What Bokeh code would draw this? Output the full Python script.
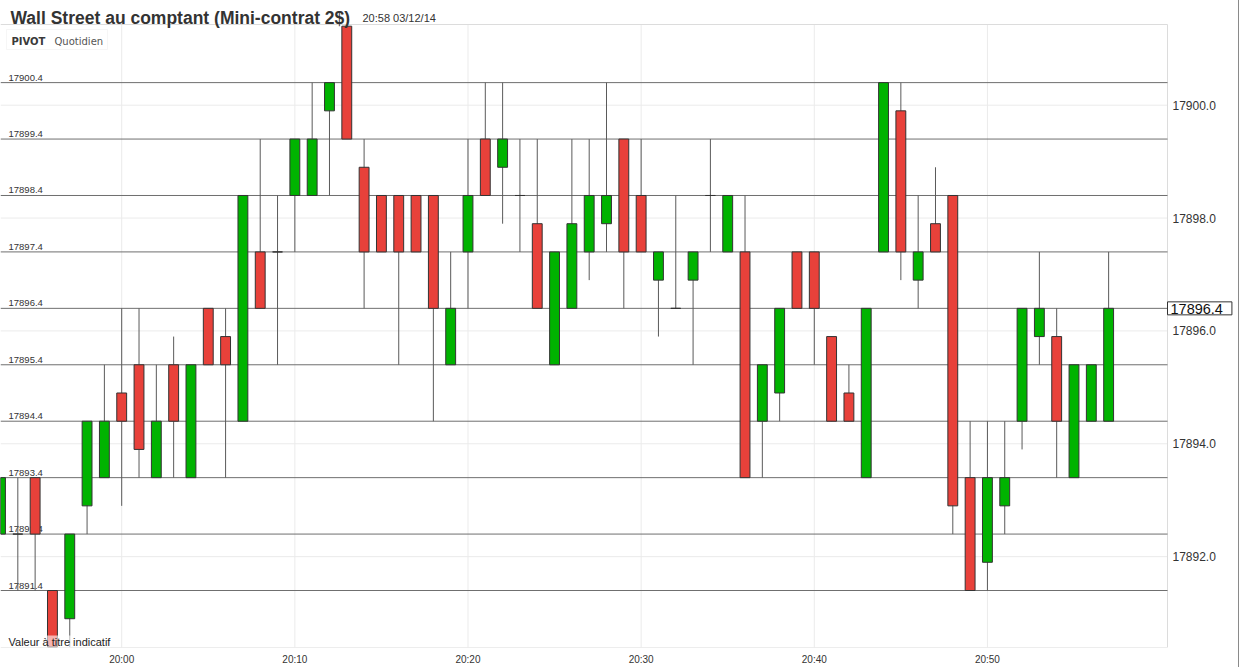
from bokeh.plotting import figure
from bokeh.models import Range1d, FixedTicker, Label, BoxAnnotation, ColumnDataSource
from bokeh.core.properties import value
from bokeh.embed import file_html
from bokeh.resources import INLINE

# ---------------- data ----------------
times = ["19:53", "19:54", "19:55", "19:56", "19:57", "19:58", "19:59",
         "20:00", "20:01", "20:02", "20:03", "20:04", "20:05", "20:06", "20:07", "20:08", "20:09",
         "20:10", "20:11", "20:12", "20:13", "20:14", "20:15", "20:16", "20:17", "20:18", "20:19",
         "20:20", "20:21", "20:22", "20:23", "20:24", "20:25", "20:26", "20:27", "20:28", "20:29",
         "20:30", "20:31", "20:32", "20:33", "20:34", "20:35", "20:36", "20:37", "20:38", "20:39",
         "20:40", "20:41", "20:42", "20:43", "20:44", "20:45", "20:46", "20:47", "20:48", "20:49",
         "20:50", "20:51", "20:52", "20:53", "20:54", "20:55", "20:56", "20:57"]

opens = [17892.4, 17892.4, 17893.4, 17891.4, 17890.9, 17892.9, 17893.4,
         17894.9, 17895.4, 17893.4, 17895.4, 17893.4, 17896.4, 17895.9, 17894.4, 17897.4, 17897.4,
         17898.4, 17898.4, 17899.9, 17901.4, 17898.9, 17898.4, 17898.4, 17898.4, 17898.4, 17895.4,
         17897.4, 17899.4, 17898.9, 17898.4, 17897.9, 17895.4, 17896.4, 17897.4, 17897.9, 17899.4,
         17898.4, 17896.9, 17896.4, 17896.9, 17898.4, 17897.4, 17897.4, 17894.4, 17894.9, 17897.4,
         17897.4, 17895.9, 17894.9, 17893.4, 17897.4, 17899.9, 17896.9, 17897.9, 17898.4, 17893.4,
         17891.9, 17892.9, 17894.4, 17895.9, 17895.9, 17893.4, 17894.4, 17894.4]

highs = [17893.4, 17893.4, 17893.4, 17891.4, 17892.4, 17894.4, 17895.4,
         17896.4, 17896.4, 17895.4, 17895.9, 17895.4, 17896.4, 17896.4, 17898.4, 17899.4, 17898.4,
         17899.4, 17900.4, 17900.4, 17901.4, 17899.4, 17898.4, 17898.4, 17898.4, 17898.4, 17897.4,
         17899.4, 17900.4, 17900.4, 17899.4, 17899.4, 17897.4, 17899.4, 17899.4, 17900.4, 17899.4,
         17899.4, 17897.4, 17898.4, 17897.4, 17899.4, 17898.4, 17898.4, 17895.4, 17896.4, 17897.4,
         17897.4, 17895.9, 17895.4, 17896.4, 17900.4, 17900.4, 17898.4, 17898.9, 17898.4, 17894.4,
         17894.4, 17894.4, 17896.4, 17897.4, 17896.4, 17895.4, 17895.4, 17897.4]

lows = [17892.4, 17891.4, 17891.4, 17890.4, 17890.4, 17892.4, 17893.4,
        17892.9, 17893.4, 17893.4, 17893.4, 17893.4, 17895.4, 17893.4, 17894.4, 17896.4, 17895.4,
        17897.4, 17898.4, 17898.4, 17899.4, 17896.4, 17897.4, 17895.4, 17897.4, 17894.4, 17895.4,
        17896.4, 17898.4, 17897.9, 17897.4, 17896.4, 17895.4, 17896.4, 17896.9, 17897.4, 17896.4,
        17897.4, 17895.9, 17896.4, 17895.4, 17897.4, 17897.4, 17893.4, 17893.4, 17894.4, 17896.4,
        17895.4, 17894.4, 17894.4, 17893.4, 17897.4, 17896.9, 17896.4, 17897.4, 17892.4, 17891.4,
        17891.4, 17892.4, 17893.9, 17895.4, 17893.4, 17893.4, 17894.4, 17894.4]

closes = [17893.4, 17892.4, 17892.4, 17890.4, 17892.4, 17894.4, 17894.4,
          17894.4, 17893.9, 17894.4, 17894.4, 17895.4, 17895.4, 17895.4, 17898.4, 17896.4, 17897.4,
          17899.4, 17899.4, 17900.4, 17899.4, 17897.4, 17897.4, 17897.4, 17897.4, 17896.4, 17896.4,
          17898.4, 17898.4, 17899.4, 17898.4, 17896.4, 17897.4, 17897.9, 17898.4, 17898.4, 17897.4,
          17897.4, 17897.4, 17896.4, 17897.4, 17898.4, 17898.4, 17893.4, 17895.4, 17896.4, 17896.4,
          17896.4, 17894.4, 17894.4, 17896.4, 17900.4, 17897.4, 17897.4, 17897.4, 17892.9, 17891.4,
          17893.4, 17893.4, 17896.4, 17896.4, 17894.4, 17895.4, 17895.4, 17896.4]

pivot_levels = [17891.4, 17892.4, 17893.4, 17894.4, 17895.4,
                17896.4, 17897.4, 17898.4, 17899.4, 17900.4]
price_ticks = [17892.0, 17894.0, 17896.0, 17898.0, 17900.0]
time_tick_labels = ["20:00", "20:10", "20:20", "20:30", "20:40", "20:50"]

title_text = "Wall Street au comptant (Mini-contrat 2$)"
stamp_text = "20:58 03/12/14"
pivot_word = "PIVOT"
pivot_period = "Quotidien"
disclaimer = "Valeur à titre indicatif"
last_price = closes[-1]

# ---------------- helpers ----------------
def to_minutes(t):
    h, m = t.split(":")
    return int(h) * 60 + int(m) - 20 * 60

xs = [to_minutes(t) for t in times]
tick_x = [to_minutes(t) for t in time_tick_labels]
GREEN = "#00b300"
RED = "#e8413a"
colors = [GREEN if c >= o else RED for o, c in zip(opens, closes)]
tops = [max(o, c) for o, c in zip(opens, closes)]
bottoms = [min(o, c) for o, c in zip(opens, closes)]
src = ColumnDataSource(dict(x=xs, high=highs, low=lows, top=tops, bottom=bottoms, color=colors))

# ---------------- layout ----------------
W, H = 1239, 667
AXIS_H = 20
FW, FH = W, H - AXIS_H            # frame covers the whole canvas except the time axis strip
PLOT_W = 1167                      # width of the price area (right axis labels sit beyond it)
PLOT_TOP = 24                      # pixels left for the title above the price area
X0, X1 = -7.0, 60.4                # visible time window of the price area (minutes from 20:00)
Y0, Y1 = 17890.39, 17901.43        # visible price window of the price area
x_end = X0 + (X1 - X0) * FW / PLOT_W
y_top = Y1 + (Y1 - Y0) * PLOT_TOP / (FH - PLOT_TOP)

p = figure(width=W, height=H, output_backend="svg", toolbar_location=None,
           x_range=Range1d(X0, x_end), y_range=Range1d(Y0, y_top),
           y_axis_location=None, min_border_left=0, min_border_right=0,
           min_border_top=0, min_border_bottom=AXIS_H)
p.outline_line_color = None
p.grid.visible = False
p.background_fill_color = "white"
p.border_fill_color = "white"
p.styles = {"border-right": "1px solid #8a8a8a"}

# time axis (real axis, below)
p.xaxis.ticker = FixedTicker(ticks=tick_x)
p.xaxis.major_label_overrides = {tx: lab for tx, lab in zip(tick_x, time_tick_labels)}
p.xaxis.axis_line_color = None
p.xaxis.major_tick_line_color = None
p.xaxis.minor_tick_line_color = None
p.xaxis.major_label_text_font = "Liberation Sans"
p.xaxis.major_label_text_font_size = "10px"
p.xaxis.major_label_text_color = "#333333"
p.xaxis.major_label_standoff = 0

# grid lines of the price area
GRID = "#ebebeb"
p.segment(x0=tick_x, x1=tick_x, y0=[Y0] * len(tick_x), y1=[Y1] * len(tick_x),
          line_color=GRID, line_width=1)
p.segment(x0=[X0] * len(price_ticks), x1=[X1] * len(price_ticks), y0=price_ticks, y1=price_ticks,
          line_color=GRID, line_width=1)
# border of the price area (top, right, bottom)
p.segment(x0=[X0, X1, X0], x1=[X1, X1, X1], y0=[Y1, Y0, Y0], y1=[Y1, Y1, Y0],
          line_color="#dcdcdc", line_width=1)

# pivot levels
p.segment(x0=[X0] * len(pivot_levels), x1=[X1] * len(pivot_levels), y0=pivot_levels, y1=pivot_levels,
          line_color="#6f6f6f", line_width=1)
p.text(x=[X0] * len(pivot_levels), y=pivot_levels, text=[f"{v:.1f}" for v in pivot_levels],
       x_offset=8, y_offset=-5, text_baseline="alphabetic", text_align="left",
       text_font=value("Liberation Sans"), text_font_size="9.5px", text_color="#333333")

# candles
p.segment(x0="x", y0="high", x1="x", y1="low", source=src, line_color="#5a5a5a", line_width=1)
p.vbar(x="x", width=0.57, top="top", bottom="bottom", source=src,
       fill_color="color", line_color="#333333", line_width=1)

# price axis labels (right of the price area)
p.text(x=[X1] * len(price_ticks), y=price_ticks, text=[f"{v:.1f}" for v in price_ticks],
       x_offset=5, text_baseline="middle", text_align="left",
       text_font=value("Liberation Sans"), text_font_size="12px", text_color="#333333")

# last price box
p.add_layout(Label(x=X1, y=last_price, text=f"{last_price:.1f}",
                   text_font="Liberation Sans", text_font_size="14.5px", text_color="#111111",
                   text_baseline="middle", text_align="left",
                   background_fill_color="white", background_fill_alpha=1.0,
                   border_line_color="#333333", border_line_width=1,
                   padding=dict(left=3, right=9, top=2, bottom=1)))

# title & stamp
p.add_layout(Label(x=10, y=FH - 17, x_units="screen", y_units="screen", text=title_text,
                   text_font="Liberation Sans", text_font_size="17.5px", text_font_style="bold",
                   text_color="#333333", text_baseline="alphabetic"))
p.add_layout(Label(x=362, y=FH - 17, x_units="screen", y_units="screen", text=stamp_text,
                   text_font="Liberation Sans", text_font_size="11px",
                   text_color="#333333", text_baseline="alphabetic"))

# PIVOT box
p.add_layout(BoxAnnotation(left=6, right=107, top=FH - 29, bottom=FH - 49,
                           left_units="screen", right_units="screen",
                           top_units="screen", bottom_units="screen",
                           fill_color="white", fill_alpha=1.0, line_color="#e2e2e2", line_width=1))
p.add_layout(Label(x=11, y=FH - 41, x_units="screen", y_units="screen", text=pivot_word,
                   text_font="DejaVu Sans", text_font_size="10px", text_font_style="bold",
                   text_color="#3a3a3a", text_baseline="alphabetic"))
p.add_layout(Label(x=54, y=FH - 41, x_units="screen", y_units="screen", text=pivot_period,
                   text_font="DejaVu Sans", text_font_size="10px",
                   text_color="#555555", text_baseline="alphabetic"))

# disclaimer
p.add_layout(Label(x=8, y=6, x_units="screen", y_units="screen", text=disclaimer,
                   text_font="Liberation Sans", text_font_size="11px", text_color="#222222",
                   text_baseline="alphabetic", background_fill_color="white",
                   background_fill_alpha=0.6))

open("out.html", "w").write(file_html(p, INLINE))
